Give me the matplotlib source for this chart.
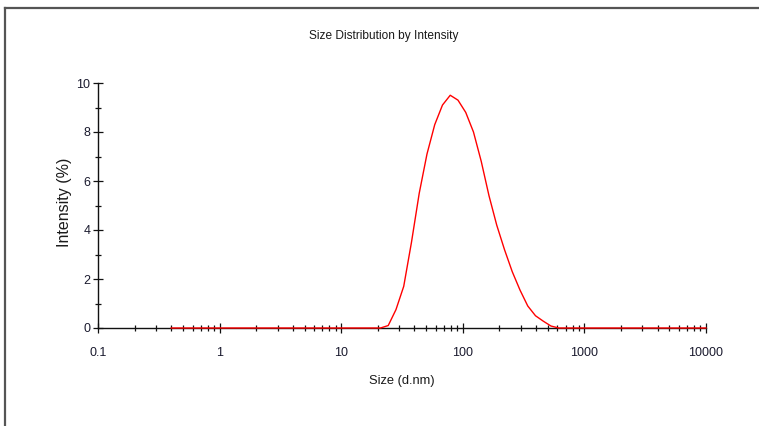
import matplotlib
matplotlib.use("Agg")
import matplotlib.pyplot as plt
from matplotlib.ticker import FixedLocator, NullFormatter, FixedFormatter
from matplotlib.lines import Line2D

plt.rcParams['font.family'] = ['Liberation Sans Narrow', 'Liberation Sans', 'DejaVu Sans']

# Size bins (d.nm) and intensity (%)
size_nm = [0.4, 21.04, 24.36, 28.21, 32.67, 37.84, 43.82, 50.75, 58.77, 68.06,
           78.82, 91.28, 105.7, 122.4, 141.8, 164.2, 190.1, 220.2, 255.0,
           295.3, 342.0, 396.1, 458.7, 531.2, 615.1, 10000]
intensity = [0.0, 0.0, 0.1, 0.75, 1.7, 3.5, 5.5, 7.1, 8.3, 9.1,
             9.5, 9.3, 8.8, 8.0, 6.8, 5.4, 4.2, 3.2, 2.3,
             1.55, 0.9, 0.5, 0.28, 0.08, 0.0, 0.0]

x_major = [0.1, 1, 10, 100, 1000, 10000]
x_major_labels = ['0.1', '1', '10', '100', '1000', '10000']
y_major = [0, 2, 4, 6, 8, 10]

W, H = 759, 426
fig = plt.figure(figsize=(W/100, H/100), dpi=100)
ax = fig.add_axes([98/W, 1-328/H, (706-98)/W, (328-83)/H])

ax.plot(size_nm, intensity, color='#ff0000', lw=1.0, zorder=5, clip_on=False)

ax.set_xscale('log')
ax.set_xlim(0.1, 10000)
ax.set_ylim(0, 10)

ax.xaxis.set_major_locator(FixedLocator(x_major))
ax.xaxis.set_major_formatter(FixedFormatter(x_major_labels))
minors = [m * 10**e for e in range(-1, 4) for m in range(2, 10)]
ax.xaxis.set_minor_locator(FixedLocator(minors))
ax.xaxis.set_minor_formatter(NullFormatter())
ax.yaxis.set_major_locator(FixedLocator(y_major))
ax.yaxis.set_minor_locator(FixedLocator([1, 3, 5, 7, 9]))

for s in ['top', 'right']:
    ax.spines[s].set_visible(False)
for s in ['left', 'bottom']:
    ax.spines[s].set_linewidth(1.0)
    ax.spines[s].set_color('#111111')

ax.tick_params(axis='both', which='major', direction='inout', length=7, width=0.9,
               colors='#111111', labelsize=9, labelcolor='#1a1a2e', pad=2)
ax.tick_params(axis='both', which='minor', direction='inout', length=5, width=0.9,
               colors='#111111')
ax.tick_params(axis='x', which='major', pad=10)

ax.set_title('Size Distribution by Intensity', fontsize=8.6, color='#1a1a1a',
             x=(383.5-98)/608, y=(328-36)/245, va='center', pad=0)
ax.set_xlabel('Size (d.nm)', fontsize=9.3, color='#1a1a1a')
ax.xaxis.set_label_coords((402-98)/608, -(381-328)/245)
ax.xaxis.label.set_va('center')
ax.set_ylabel('Intensity (%)', fontsize=11.5, color='#1a1a1a')
ax.yaxis.set_label_coords((64-98)/608, (328-202)/245)
ax.yaxis.label.set_va('center')

# outer frame (top and left edges)
fig.add_artist(Line2D([5/W, 1], [1-8/H, 1-8/H], color='#555555', lw=1.6,
                      transform=fig.transFigure))
fig.add_artist(Line2D([5/W, 5/W], [0, 1-8/H], color='#555555', lw=1.6,
                      transform=fig.transFigure))

fig.savefig('out.png', dpi=100)
